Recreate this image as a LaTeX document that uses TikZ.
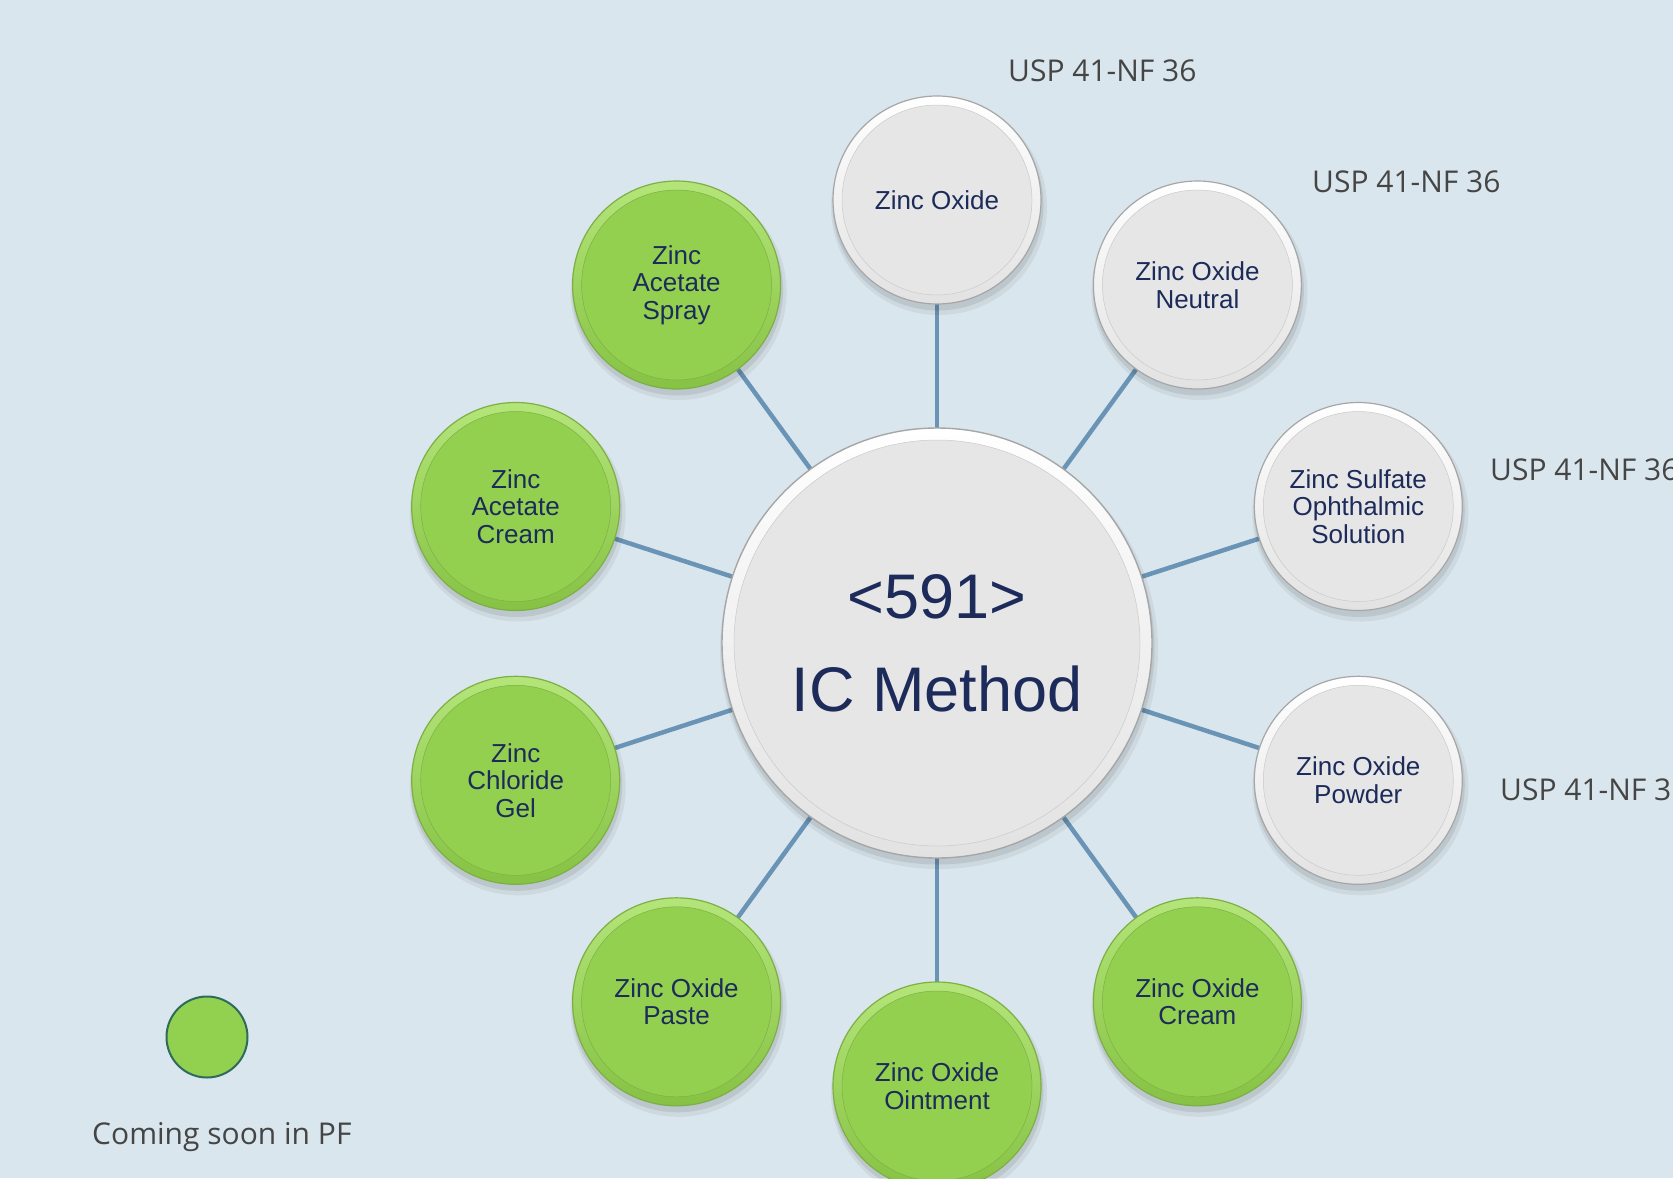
\documentclass[tikz,border=0pt]{standalone}
\usepackage{fontspec}
\setmainfont{Liberation Sans}
\newfontfamily\uspfont{Open Sans}
\usetikzlibrary{calc}
\definecolor{bgc}{HTML}{DAE6ED}
\definecolor{linec}{HTML}{6A94B6}
\definecolor{txtc}{HTML}{1C2B5A}
\definecolor{uspc}{HTML}{454545}
\definecolor{gin}{HTML}{93D050}
\definecolor{grimtop}{HTML}{B4E57A}
\definecolor{grimbot}{HTML}{86C244}
\definecolor{gedge}{HTML}{7DAF45}
\definecolor{win}{HTML}{E6E6E6}
\definecolor{wrimbot}{HTML}{E2E2E2}
\definecolor{wedge}{HTML}{A6A6A6}
\definecolor{legfill}{HTML}{92D050}
\definecolor{legedge}{HTML}{2E6B5C}
\pgfdeclarelayer{back}
\pgfdeclarelayer{lines}
\pgfsetlayers{back,lines,main}
\tikzset{
  balltext/.style={circle, inner sep=0pt, align=center, text=txtc,
    font=\fontsize{26}{27.5}\selectfont},
  gball/.style={balltext, minimum size=190pt, fill=gin, draw=gin!85!black, line width=0.5pt},
  wball/.style={balltext, minimum size=190pt, fill=win, draw=wedge!60, line width=0.5pt},
  spoke/.style={draw=linec, line width=4.5pt},
  usp/.style={anchor=base west, inner sep=0pt, text=uspc,
    font=\uspfont\fontsize{30}{36}\selectfont},
}
\newcommand\shadowball[2]{%
  \fill[black, opacity=0.06] ($(#1)+(2,7)$) circle (#2+4);
  \fill[black, opacity=0.08] ($(#1)+(1,5)$) circle (#2+1.5);
}
\newcommand\greenball[3]{%
  \shadowball{#2}{104}
  \path[draw=gedge, line width=1.2pt, top color=grimtop, bottom color=grimbot] (#2) circle (104);
  \node[gball] (#1) at (#2) {#3};
}
\newcommand\grayball[3]{%
  \shadowball{#2}{104}
  \path[draw=wedge, line width=1.2pt, top color=white, bottom color=wrimbot] (#2) circle (104);
  \node[wball] (#1) at (#2) {#3};
}
\begin{document}
\begin{tikzpicture}[x=1pt, y=-1pt]
\useasboundingbox (0,0) rectangle (1673,1178);
\clip (0,0) rectangle (1673,1178);
\begin{pgfonlayer}{back}
  \fill[bgc] (0,0) rectangle (1673,1178);
\end{pgfonlayer}

% central circle
\shadowball{937,643}{215}
\path[draw=wedge, line width=1.4pt, top color=white, bottom color=wrimbot] (937,643) circle (215);
\node[circle, inner sep=0pt, minimum size=406pt, fill=win, draw=wedge!60, line width=0.5pt,
  align=center, text=txtc, font=\fontsize{63}{93}\selectfont] (c) at (937,643) {<591>\\IC Method};

% satellites
\grayball{zo}{937,200}{Zinc Oxide}
\grayball{zon}{1197.4,285}{Zinc Oxide\\Neutral}
\grayball{zso}{1358.3,506.5}{Zinc Sulfate\\Ophthalmic\\Solution}
\grayball{zop}{1358.3,780.3}{Zinc Oxide\\Powder}
\greenball{zoc}{1197.4,1001.8}{Zinc Oxide\\Cream}
\greenball{zoo}{937,1086}{Zinc Oxide\\Ointment}
\greenball{zopa}{676.6,1001.8}{Zinc Oxide\\Paste}
\greenball{zcg}{515.7,780.3}{Zinc\\Chloride\\Gel}
\greenball{zac}{515.7,506.5}{Zinc\\Acetate\\Cream}
\greenball{zas}{676.6,285}{Zinc\\Acetate\\Spray}

% spokes
\begin{pgfonlayer}{lines}
  \foreach \s in {zo,zon,zso,zop,zoc,zoo,zopa,zcg,zac,zas}
    \draw[spoke] (c.center) -- (\s.center);
\end{pgfonlayer}

% labels
\node[usp] (u1) at (1008,81) {USP 41-NF 36};
\node[usp] (u2) at (1312,192) {USP 41-NF 36};
\node[usp] (u3) at (1490,480) {USP 41-NF 36};
\node[usp] (u4) at (1500,800) {USP 41-NF 36};

% legend
\node[circle, minimum size=81pt, inner sep=0pt, fill=legfill, draw=legedge, line width=2pt] (leg) at (207,1037) {};
\node[usp] (legt) at (92,1144) {Coming soon in PF};
\end{tikzpicture}
\end{document}
